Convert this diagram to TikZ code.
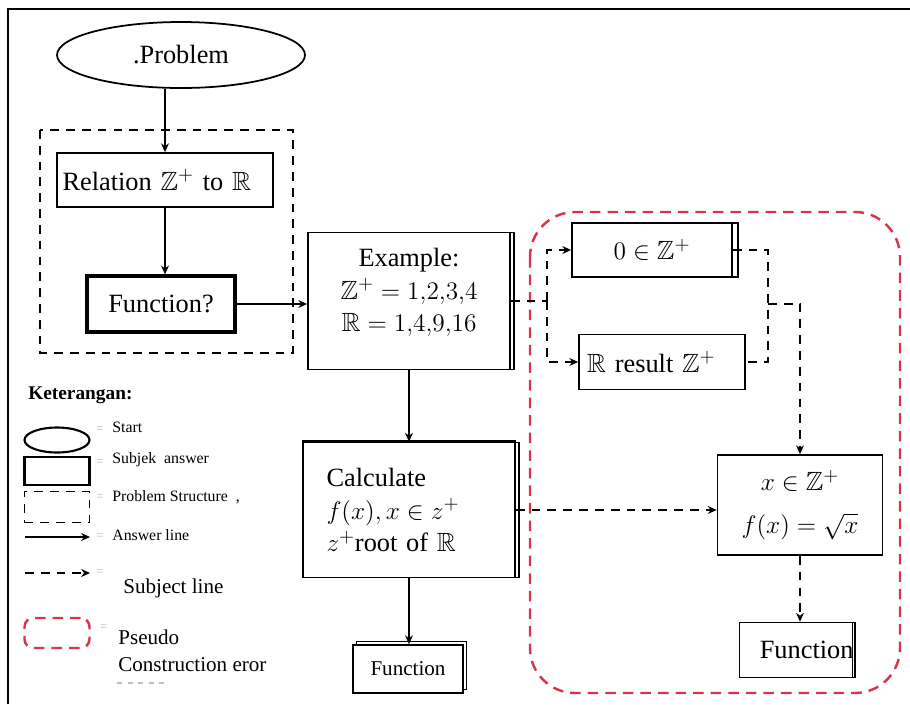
\documentclass[tikz,border=0pt]{standalone}
\usepackage{amsmath}
\usepackage{amssymb}
\usepackage{fontspec}
\setmainfont{Liberation Serif}
\usepackage{tikz}
\usetikzlibrary{arrows.meta, positioning, shapes.geometric, shadows, calc}
\definecolor{pseudored}{HTML}{D8344A}
\newcommand{\mainfs}{\fontsize{15}{18.5}\selectfont}

\begin{document}
\begin{tikzpicture}[x=0.02cm, y=-0.02cm, >={Stealth[length=5pt, width=4.5pt]}, font=\mainfs]
  \tikzset{
    box/.style={draw, fill=white, rectangle, line width=1pt, inner sep=2pt},
    heavybox/.style={box, line width=1.9pt},
    ans/.style={->, line width=1.1pt},
    subj/.style={line width=1.1pt, dash pattern=on 5pt off 4pt},
    pseudo/.style={draw=pseudored, line width=1.4pt, dash pattern=on 6pt off 4pt},
    eqmark/.style={font=\fontsize{7}{8}\selectfont, text=gray!60, inner sep=0pt, anchor=west},
    legtext/.style={font=\fontsize{9}{10}\selectfont, inner sep=0pt, anchor=west},
  }
  \useasboundingbox (0,0) rectangle (910,704);
  % frame
  \draw[line width=1.4pt] (8,704) -- (8,9) -- (910,9);

  % problem structure
  \draw[subj] (40,130) rectangle (293,353);
  \node[draw, ellipse, line width=1pt, minimum width=4.96cm, minimum height=1.32cm] (prob) at (181,55) {.Problem};
  \node[box, minimum width=4.32cm, minimum height=1.08cm, text width=4.1cm, align=left] (rel) at (165,180) {Relation $\mathbb{Z}^+$ to $\mathbb{R}$};
  \node[heavybox, minimum width=2.96cm, minimum height=1.12cm] (fq) at (161,304) {Function?};

  % main column
  \node[box, copy shadow={shadow xshift=2.3pt, shadow yshift=0pt}, minimum width=4.04cm, minimum height=2.74cm, align=center] (ex) at (409,301) {Example:\\ $\mathbb{Z}^+ = 1{,}2{,}3{,}4$\\ $\mathbb{R} = 1{,}4{,}9{,}16$\\[-6pt] \mbox{}};
  \node[box, copy shadow={shadow xshift=2.5pt, shadow yshift=0pt}, minimum width=4.24cm, minimum height=2.7cm, text width=3.3cm, align=left] (calc) at (409,510) {Calculate\\ $f(x), x \in z^+$\\ $z^+$root of $\mathbb{R}$};
  \draw[line width=2pt] (calc.north west) -- (calc.north east);
  \node[box, copy shadow={shadow xshift=2pt, shadow yshift=2pt}, minimum width=2.2cm, minimum height=0.96cm, font=\fontsize{12}{14}\selectfont] (fn1) at (408,669) {Function};

  % pseudo construction
  \draw[pseudo, rounded corners=0.9cm] (530,212) rectangle (900,693);
  \node[box, copy shadow={shadow xshift=3.5pt, shadow yshift=0pt}, minimum width=3.2cm, minimum height=1.08cm] (zero) at (652,250) {$0 \in \mathbb{Z}^+$};
  \node[box, minimum width=3.32cm, minimum height=1.1cm, text width=3cm, align=left] (res) at (662,362) {$\mathbb{R}$ result $\mathbb{Z}^+$};
  \node[box, minimum width=3.3cm, minimum height=2cm, align=center] (xin) at (800,505) {$x \in \mathbb{Z}^+$\\[6pt] $f(x) = \sqrt{x}$};
  \node[box, copy shadow={shadow xshift=1.5pt, shadow yshift=0pt}, minimum width=2.26cm, minimum height=1.1cm] (fn2) at (796,650) {};
  \begin{scope}
    \clip (fn2.south west) rectangle (fn2.north east);
    \node[anchor=west] (fn2text) at ([xshift=0.3cm]fn2.west) {Function};
  \end{scope}

  % answer lines
  \draw[ans] (rel.north |- prob.south) -- (rel.north);
  \draw[ans] (rel.south) -- (rel.south |- fq.north);
  \draw[ans] (fq.east) -- (fq.east -| ex.west);
  \draw[ans] (ex.south) -- (ex.south |- calc.north);
  \draw[ans] (calc.south) -- (calc.south |- fn1.north);

  % subject lines
  \coordinate (split) at (547,301);
  \coordinate (merge) at (768,304);
  \draw[subj] (ex.east) -- (split);
  \draw[subj, ->] (split) |- (zero.west);
  \draw[subj, ->] (split) |- (res.west);
  \draw[subj] (zero.east) -| (merge) |- (res.east);
  \draw[subj, ->] (merge) -| (xin.north);
  \draw[subj, ->] (calc.east) -- (calc.east -| xin.west);
  \draw[subj, ->] (xin.south) -- (xin.south |- fn2.north);

  % legend
  \node[anchor=west, inner sep=0pt, font=\bfseries\fontsize{11}{13}\selectfont] (key) at (28,395) {Keterangan:};
  \node[draw, ellipse, line width=1.2pt, minimum width=1.3cm, minimum height=0.5cm] (lgstart) at (57,440) {};
  \node[draw, line width=1.6pt, minimum width=1.3cm, minimum height=0.56cm] (lgbox) at (57,471) {};
  \node[draw, subj, minimum width=1.3cm, minimum height=0.62cm] (lgstruct) at (57,507) {};
  \coordinate (lga1) at (25,537);
  \coordinate (lga2) at (90,537);
  \draw[ans] (lga1) -- (lga2);
  \coordinate (lgs1) at (25,573);
  \coordinate (lgs2) at (90,573);
  \draw[subj, ->] (lgs1) -- (lgs2);
  \node[pseudo, rounded corners=5pt, minimum width=1.3cm, minimum height=0.6cm] (lgpseudo) at (57,633) {};

  \node[eqmark] at (96,430) {=};
  \node[eqmark] at (96,463) {=};
  \node[eqmark] at (96,498) {=};
  \node[eqmark] at (96,537) {=};
  \node[eqmark] at (96,573) {=};
  \node[eqmark] at (100,628) {=};
  \node[legtext] (lgt1) at (112,427) {Start};
  \node[legtext] (lgt2) at (112,460) {Subjek\ \ answer};
  \node[legtext] (lgt3) at (112,497) {Problem Structure\ \ ,};
  \node[legtext] (lgt4) at (112,535) {Answer line};
  \node[anchor=west, inner sep=0pt, font=\fontsize{12}{14}\selectfont] (lgt5) at (123,588) {Subject line};
  \node[anchor=west, inner sep=0pt, align=left, font=\fontsize{12}{15.5}\selectfont] (lgt6) at (118,651) {Pseudo\\ Construction eror};
  \draw[gray!50, dashed, line width=0.6pt] (117,683) -- (167,683);
\end{tikzpicture}
\end{document}
